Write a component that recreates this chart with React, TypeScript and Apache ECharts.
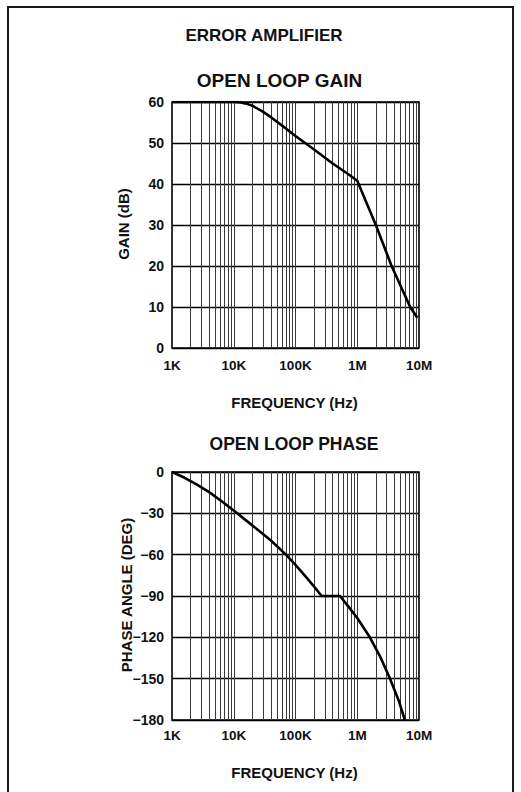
import React, { useEffect, useRef } from 'react';
import * as echarts from 'echarts';

const xTickLabels = ['1K', '10K', '100K', '1M', '10M'];
const gainFreq = [1000, 5000, 10000, 13000, 16000, 20000, 30000, 40000, 60000, 100000, 200000, 400000, 700000, 1000000, 2000000, 3600000, 7200000, 9400000];
const gainDb = [60, 60, 60, 59.9, 59.6, 59.1, 57.6, 56.3, 54.3, 51.7, 48.4, 45.0, 42.5, 40.8, 30, 20, 10, 7.4];
const phaseFreq = [1000, 1600, 2500, 4000, 6300, 10000, 16000, 25000, 40000, 72000, 100000, 150000, 200000, 265000, 525000, 700000, 1000000, 1600000, 2350000, 3400000, 4700000, 5900000];
const phaseDeg = [0, -4.2, -9, -14.6, -21, -28, -35.3, -42.3, -49.7, -60.5, -67.4, -76.5, -83.2, -90, -90, -97, -106, -120, -134, -150, -166, -180];
const decadeStarts = [1e3, 1e4, 1e5, 1e6];
const decadeMultipliers = [1, 2, 3, 4, 5, 6, 7, 8, 9];

const FONT = 'Liberation Sans, Arial, Helvetica, sans-serif';
const INK = '#111';

export default function App() {
  const ref = useRef<HTMLDivElement>(null);
  useEffect(() => {
    document.body.style.margin = '0';
    if (!ref.current) return;
    const chart = echarts.init(ref.current, undefined, { renderer: 'svg' });

    const gridFreqs: number[] = [];
    decadeStarts.forEach((d) => decadeMultipliers.forEach((m) => {
      const f = d * m;
      if (f > 1000) gridFreqs.push(f);
    }));

    const xAxisBase = (gridIndex: number, margin: number) => ({
      type: 'log',
      logBase: 10,
      gridIndex,
      min: 1000,
      max: 1e7,
      axisLine: { show: false },
      axisTick: { show: false },
      splitLine: { show: false },
      axisLabel: {
        margin,
        fontFamily: FONT,
        fontWeight: 'bold',
        fontSize: 13.5,
        color: INK,
        formatter: (v: number) => xTickLabels[Math.round(Math.log10(v)) - 3] ?? '',
      },
    });

    const yAxisBase = (gridIndex: number, min: number, max: number, interval: number) => ({
      type: 'value',
      gridIndex,
      min,
      max,
      interval,
      axisLine: { show: false },
      axisTick: { show: false },
      splitLine: { show: true, lineStyle: { color: '#000', width: 1.4 } },
      axisLabel: {
        margin: 8,
        fontFamily: FONT,
        fontWeight: 'bold',
        fontSize: 14,
        color: INK,
        formatter: (v: number) => (v < 0 ? '\u2212' + Math.abs(v) : String(v)),
      },
    });

    const gridLineSeries = (idx: number) => ({
      type: 'line',
      xAxisIndex: idx,
      yAxisIndex: idx,
      data: [],
      silent: true,
      z: 1,
      markLine: {
        silent: true,
        symbol: ['none', 'none'],
        label: { show: false },
        lineStyle: { color: '#3a3a3a', width: 1, type: 'solid' },
        emphasis: { disabled: true },
        data: gridFreqs.map((f) => ({ xAxis: f })),
      },
    });

    const textStyle = (text: string, size: number) => ({
      text,
      fontFamily: FONT,
      fontWeight: 'bold',
      fontSize: size,
      fill: INK,
      align: 'center',
      verticalAlign: 'middle',
    });

    chart.setOption({
      animation: false,
      backgroundColor: '#fff',
      grid: [
        { left: 172, top: 102, width: 247, height: 246, show: true, borderColor: '#000', borderWidth: 1.6, backgroundColor: 'transparent' },
        { left: 172, top: 472, width: 247, height: 248, show: true, borderColor: '#000', borderWidth: 1.6, backgroundColor: 'transparent' },
      ],
      xAxis: [xAxisBase(0, 10), xAxisBase(1, 8)],
      yAxis: [yAxisBase(0, 0, 60, 10), yAxisBase(1, -180, 0, 30)],
      series: [
        gridLineSeries(0),
        gridLineSeries(1),
        {
          type: 'line',
          name: 'Gain',
          xAxisIndex: 0,
          yAxisIndex: 0,
          data: gainFreq.map((f, i) => [f, gainDb[i]]),
          symbol: 'none',
          smooth: false,
          z: 5,
          lineStyle: { color: '#000', width: 2.6, join: 'round' },
        },
        {
          type: 'line',
          name: 'Phase',
          xAxisIndex: 1,
          yAxisIndex: 1,
          data: phaseFreq.map((f, i) => [f, phaseDeg[i]]),
          symbol: 'none',
          smooth: false,
          z: 5,
          lineStyle: { color: '#000', width: 2.6, join: 'round' },
        },
      ],
      graphic: [
        { type: 'rect', shape: { x: 8, y: 7, width: 505, height: 820 }, style: { fill: 'none', stroke: '#1a1a1a', lineWidth: 2 }, silent: true },
        { type: 'text', x: 264, y: 35, style: textStyle('ERROR AMPLIFIER', 17) },
        { type: 'text', x: 279.5, y: 80.5, style: textStyle('OPEN LOOP GAIN', 19) },
        { type: 'text', x: 123, y: 224, rotation: Math.PI / 2, style: textStyle('GAIN (dB)', 15) },
        { type: 'text', x: 294.5, y: 402, style: textStyle('FREQUENCY (Hz)', 15) },
        { type: 'text', x: 294, y: 443.5, style: textStyle('OPEN LOOP PHASE', 17.5) },
        { type: 'text', x: 126, y: 595, rotation: Math.PI / 2, style: textStyle('PHASE ANGLE (DEG)', 15) },
        { type: 'text', x: 294.5, y: 772, style: textStyle('FREQUENCY (Hz)', 15) },
      ],
    });
    return () => chart.dispose();
  }, []);
  return <div ref={ref} style={{ width: 521, height: 792 }} />;
}
